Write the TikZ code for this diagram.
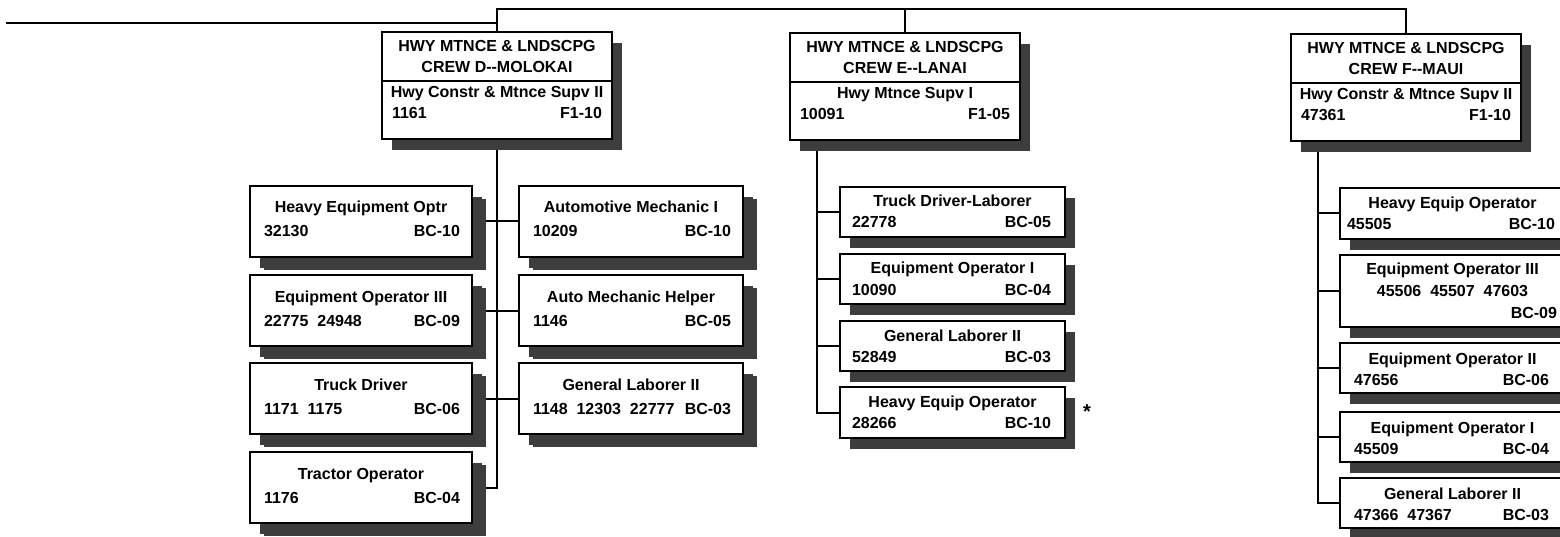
\documentclass[tikz,border=0pt]{standalone}
\usepackage{fontspec}
\setmainfont{Liberation Sans}
\usetikzlibrary{calc,shadows,backgrounds}
\definecolor{shd}{gray}{0.24}
\tikzset{
  boxline/.style={line width=1.5pt,draw=black},
  conn/.style={line width=2pt,draw=black},
  jb/.style={boxline,fill=white,rectangle,inner sep=0pt,outer sep=0pt,anchor=north west,
    drop shadow={shadow xshift=10pt,shadow yshift=-11pt,opacity=1,fill=shd,draw=none}},
  dshadow/.style={drop shadow={shadow xshift=14pt,shadow yshift=-13pt,opacity=1,fill=shd,draw=none}},
  hb/.style={jb,minimum width=230pt,minimum height=107pt},
  txt/.style={inner sep=0pt,outer sep=0pt,text=black}
}
\newcommand\tOff{20}
\newcommand\sOff{41}
\newcommand\lIn{11}
\newcommand\rIn{13}
\newcommand\jobbox[9]{%
  \node[jb,#6,minimum width=#4pt,minimum height=#5pt] (#1) at (#2,#3) {};
  \node[txt,anchor=base] (#1-t) at ($(#1.north)+(0,\tOff)$) {#7};
  \node[txt,anchor=base west] (#1-l) at ($(#1.north west)+(\lIn,\sOff)$) {#8};
  \node[txt,anchor=base east] (#1-r) at ($(#1.north east)+(-\rIn,\sOff)$) {#9};
}
\newcommand\hdrbox[7]{%
  \node[hb] (#1) at (#2,#3) {};
  \draw[boxline] ($(#1.north west)+(0,49)$) -- ($(#1.north east)+(0,49)$);
  \node[txt,anchor=base] (#1-a) at ($(#1.north)+(0,20)$) {HWY MTNCE \& LNDSCPG};
  \node[txt,anchor=base] (#1-b) at ($(#1.north)+(0,41)$) {#4};
  \node[txt,anchor=base] (#1-c) at ($(#1.north)+(0,66)$) {#5};
  \node[txt,anchor=base west] (#1-d) at ($(#1.north west)+(10,87)$) {#6};
  \node[txt,anchor=base east] (#1-e) at ($(#1.north east)+(-10,87)$) {#7};
}
\begin{document}
\begin{tikzpicture}[x=1pt,y=-1pt,font=\fontsize{16}{19}\selectfont\bfseries]
\useasboundingbox (0,0) rectangle (1560,537);
\clip (0,0) rectangle (1560,537);

% header boxes
\hdrbox{D}{382}{32}{CREW D-{}-MOLOKAI}{Hwy Constr \& Mtnce Supv II}{1161}{F1-10}
\hdrbox{E}{790}{33}{CREW E-{}-LANAI}{Hwy Mtnce Supv I}{10091}{F1-05}
\hdrbox{F}{1291}{34}{CREW F-{}-MAUI}{Hwy Constr \& Mtnce Supv II}{47361}{F1-10}

% crew D
\renewcommand\tOff{27}\renewcommand\sOff{51}\renewcommand\lIn{14}\renewcommand\rIn{12}
\jobbox{d1}{250}{186}{222}{71}{dshadow}{Heavy Equipment Optr}{32130}{BC-10}
\jobbox{d2}{250}{275}{222}{71}{dshadow}{Equipment Operator III}{22775~~24948}{BC-09}
\jobbox{d3}{250}{363}{222}{71}{dshadow}{Truck Driver}{1171~~1175}{BC-06}
\jobbox{d4}{250}{452}{222}{71}{dshadow}{Tractor Operator}{1176}{BC-04}
\jobbox{d5}{519}{186}{224}{71}{dshadow}{Automotive Mechanic I}{10209}{BC-10}
\jobbox{d6}{519}{275}{224}{71}{dshadow}{Auto Mechanic Helper}{1146}{BC-05}
\jobbox{d7}{519}{363}{224}{71}{dshadow}{General Laborer II}{1148~~12303~~22777}{BC-03}

% crew E
\renewcommand\tOff{20}\renewcommand\sOff{41}\renewcommand\lIn{12}\renewcommand\rIn{14}
\jobbox{e1}{840}{187}{225}{50}{}{Truck Driver-Laborer}{22778}{BC-05}
\jobbox{e2}{840}{254}{225}{50}{}{Equipment Operator I}{10090}{BC-04}
\jobbox{e3}{840}{321}{225}{50}{}{General Laborer II}{52849}{BC-03}
\jobbox{e4}{840}{387}{225}{51}{}{Heavy Equip Operator}{28266}{BC-10}
\node[txt,anchor=base,font=\fontsize{20}{22}\selectfont\bfseries] (ast) at (1087,418) {*};

% crew F
\renewcommand\tOff{21}\renewcommand\sOff{42}\renewcommand\lIn{7}\renewcommand\rIn{10}
\jobbox{f1}{1340}{188}{225}{51}{}{Heavy Equip Operator}{45505}{BC-10}
\node[jb,minimum width=225pt,minimum height=72pt] (f2) at (1340,255) {};
\node[txt,anchor=base] (f2-t) at ($(f2.north)+(0,20)$) {Equipment Operator III};
\node[txt,anchor=base] (f2-l) at ($(f2.north)+(0,42)$) {45506~~45507~~47603};
\node[txt,anchor=base east] (f2-r) at ($(f2.north east)+(-8,63)$) {BC-09};
\renewcommand\lIn{14}\renewcommand\rIn{16}
\jobbox{f3}{1340}{343}{225}{50}{}{Equipment Operator II}{47656}{BC-06}
\jobbox{f4}{1340}{412}{225}{50}{}{Equipment Operator I}{45509}{BC-04}
\jobbox{f5}{1340}{478}{225}{50}{}{General Laborer II}{47366~~47367}{BC-03}

% connectors
\begin{pgfonlayer}{background}
\coordinate (L) at (6,23);
\coordinate (top) at (497,9);
\draw[conn] (L) -- (L -| D.north);
\draw[conn] (D.north) -- (top) -| (F.north);
\draw[conn] (top -| E.north) -- (E.north);
% D
\draw[conn] (D.south) -- (D.south |- d4.east) -- (d4.east);
\draw[conn] (d1.east) -- (d5.west);
\draw[conn] (d2.east) -- (d6.west);
\draw[conn] (d3.east) -- (d7.west);
% E
\coordinate (Ev) at ($(E.south west)+(27,0)$);
\draw[conn] (Ev) |- (e4.west);
\draw[conn] (Ev |- e1.west) -- (e1.west);
\draw[conn] (Ev |- e2.west) -- (e2.west);
\draw[conn] (Ev |- e3.west) -- (e3.west);
% F
\coordinate (Fv) at ($(F.south west)+(27,0)$);
\draw[conn] (Fv) |- (f5.west);
\draw[conn] (Fv |- f1.west) -- (f1.west);
\draw[conn] (Fv |- f2.west) -- (f2.west);
\draw[conn] (Fv |- f3.west) -- (f3.west);
\draw[conn] (Fv |- f4.west) -- (f4.west);
\end{pgfonlayer}
\end{tikzpicture}
\end{document}
